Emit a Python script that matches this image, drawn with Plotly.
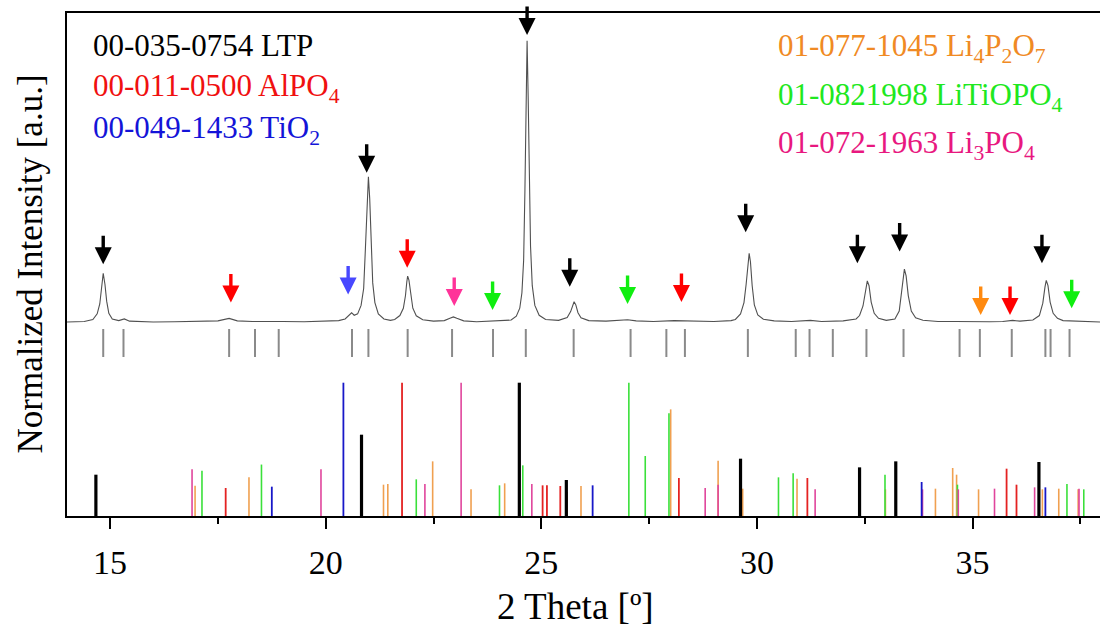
import plotly.graph_objects as go

# ---------------- DATA ----------------
# measured pattern: 2-theta [deg], intensity [% of max, baseline = 0]
curve_theta = [14.00, 14.40, 14.60, 14.70, 14.76, 14.80, 14.84, 14.88, 14.92, 14.97, 15.05, 15.20, 15.33, 15.45,
               16.00, 16.50, 17.00, 17.50, 17.76, 17.95, 18.30, 18.60, 19.00, 19.50, 20.00,
               20.30, 20.45, 20.55, 20.60, 20.66, 20.74, 20.82, 20.88, 20.92, 20.96, 20.99, 21.02, 21.05, 21.09,
               21.14, 21.22, 21.35, 21.50, 21.60, 21.72, 21.80, 21.85, 21.88, 21.90, 21.93, 21.97, 22.02, 22.10,
               22.25, 22.50, 22.75, 22.88, 22.96, 23.04, 23.20, 23.50, 23.70, 23.87, 24.00, 24.20, 24.30, 24.42,
               24.50, 24.55, 24.59, 24.62, 24.645, 24.67, 24.695, 24.72, 24.75, 24.79, 24.85, 24.95, 25.10,
               25.40, 25.60, 25.68, 25.73, 25.76, 25.80, 25.85, 25.92, 26.10, 26.50, 26.84, 27.00, 27.20, 27.60,
               28.08, 28.30, 28.60, 29.00, 29.40, 29.50, 29.62, 29.70, 29.75, 29.79, 29.82, 29.85, 29.89, 29.94,
               30.02, 30.15, 30.40, 30.80, 31.00, 31.24, 31.50, 32.00, 32.30, 32.38, 32.46, 32.51, 32.56, 32.60,
               32.65, 32.72, 32.82, 33.00, 33.20, 33.30, 33.36, 33.42, 33.46, 33.51, 33.58, 33.68, 33.85, 34.20,
               34.60, 35.00, 35.18, 35.40, 35.70, 35.93, 36.10, 36.40, 36.55, 36.63, 36.68, 36.71, 36.75, 36.80,
               36.87, 36.97, 37.10, 37.30, 37.50, 38.00]
curve_int = [0.1, 0.3, 1.0, 3.0, 6.5, 12.5, 17.4, 13.5, 7.5, 3.2, 1.2, 0.6, 1.2, 0.4,
             0.1, 0.2, 0.3, 0.5, 1.4, 0.5, 0.3, 0.2, 0.3, 0.2, 0.4,
             0.6, 1.2, 2.5, 3.4, 2.5, 3.0, 6.0, 12.0, 26.0, 44.0, 51.7, 44.0, 29.0, 14.0,
             7.0, 3.0, 1.2, 0.7, 1.0, 2.4, 5.0, 9.5, 14.3, 16.4, 15.0, 10.0, 5.0, 2.3,
             0.9, 0.4, 0.6, 1.4, 1.9, 1.4, 0.5, 0.2, 0.3, 0.6, 0.4, 0.7, 0.8, 2.2,
             5.0, 10.5, 22.0, 47.0, 77.0, 100.0, 80.0, 53.0, 27.0, 13.0, 6.0, 2.5, 1.0,
             0.7, 1.7, 3.8, 6.2, 7.3, 6.2, 3.4, 1.6, 0.6, 0.4, 0.8, 0.9, 0.5, 0.3,
             0.6, 0.5, 0.3, 0.3, 0.6, 1.0, 3.0, 7.0, 13.5, 21.0, 24.5, 21.5, 13.0, 6.2,
             2.6, 1.1, 0.5, 0.3, 0.5, 0.7, 0.3, 0.5, 1.2, 2.4, 5.8, 10.8, 14.7, 13.0,
             7.2, 3.2, 1.4, 0.7, 1.2, 4.0, 11.0, 18.9, 16.5, 9.5, 4.0, 1.6, 0.7, 0.3,
             0.3, 0.2, 0.4, 0.2, 0.3, 0.7, 0.4, 0.8, 2.4, 6.8, 12.5, 14.9, 13.0, 7.2,
             3.2, 1.4, 0.6, 0.5, 0.2, 0.1]

# LTP reference reflections (gray tick row)
ref_ticks = [14.84, 15.31, 17.76, 18.36, 18.91, 20.61, 20.99, 21.90, 22.93, 23.88, 24.64, 25.75, 27.07,
             27.90, 28.33, 29.79, 30.90, 31.22, 31.76, 32.54, 33.40, 34.70, 35.17, 35.91, 36.69, 36.81, 37.25]

# stick patterns: position [deg], relative intensity [%]
ltp_pos = [14.67, 20.83, 24.49, 25.58, 29.62, 32.38, 33.22, 36.54]
ltp_int = [31, 61, 100, 27, 43, 36.5, 41, 40.5]
alpo4_pos = [17.68, 21.77, 25.03, 25.13, 25.44, 28.19, 31.17, 35.79, 36.02]
alpo4_int = [21, 100, 23, 23, 22.5, 28.5, 28.5, 35.5, 23.5]
tio2_pos = [18.75, 20.41, 26.19, 33.82, 36.69]
tio2_int = [22, 100, 23, 25.5, 21.5]
li4p2o7_pos = [16.97, 18.22, 21.34, 21.44, 22.48, 23.37, 24.15, 25.60, 25.92, 28.00, 29.10, 29.67, 30.93,
               32.98, 34.14, 34.54, 34.63, 35.14, 36.62, 37.00, 37.45]
li4p2o7_int = [22.6, 29, 23.5, 24, 41, 20, 24.5, 18, 22.5, 80, 41.5, 20.5, 28,
               20, 20.5, 36, 31, 20, 20, 20.5, 20]
litiopo4_pos = [17.13, 18.51, 22.10, 24.03, 24.57, 27.03, 27.41, 27.96, 30.50, 30.84, 32.97, 34.65, 37.19, 37.58]
litiopo4_int = [34, 38.6, 27.5, 23, 38, 100, 45, 77, 29, 32, 31, 23.5, 24, 20]
li3po4_pos = [16.90, 19.89, 22.30, 23.14, 24.78, 28.80, 29.10, 31.35, 33.84, 34.67, 35.51, 36.44, 37.47]
li3po4_int = [35, 35, 24, 100, 24, 21, 23.5, 20, 20, 20, 20.5, 21.5, 20.5]

# phase-marker arrows: position [deg], phase, tip level [% of curve scale]
arrow_pos = [14.84, 17.80, 20.52, 20.95, 21.89, 22.98, 23.87, 24.67, 25.66, 27.00, 28.25, 29.74,
             32.33, 33.31, 35.19, 35.87, 36.61, 37.30]
arrow_phase = ["LTP", "AlPO4", "TiO2", "LTP", "AlPO4", "Li3PO4", "LiTiOPO4", "LTP", "LTP", "LiTiOPO4",
               "AlPO4", "LTP", "LTP", "LTP", "Li4P2O7", "AlPO4", "LTP", "LiTiOPO4"]
arrow_level = [20.6, 7.0, 9.9, 53.1, 19.4, 5.8, 4.4, 102.0, 12.6, 6.5, 7.2, 32.0,
               21.0, 25.1, 2.6, 2.6, 21.0, 5.0]

legend_left = ["00-035-0754 LTP", "00-011-0500 AlPO<sub>4</sub>", "00-049-1433 TiO<sub>2</sub>"]
legend_right = ["01-077-1045 Li<sub>4</sub>P<sub>2</sub>O<sub>7</sub>", "01-0821998 LiTiOPO<sub>4</sub>",
                "01-072-1963 Li<sub>3</sub>PO<sub>4</sub>"]

# ---------------- STYLE ----------------
FONT = "'Liberation Serif', 'Times New Roman', Times, serif"
W, H = 1100, 633
L, R, T, B = 67, 0, 13, 117
plot_h = H - T - B
YMAX = 100.0
px_per_unit = plot_h / YMAX

def px_to_y(px):
    return (H - B - px) / px_per_unit

curve_base = px_to_y(322.3)
curve_scale = (px_to_y(40.7) - curve_base) / 100.0
stick_scale = (px_to_y(382.7) - px_to_y(516)) / 100.0
tick_lo, tick_hi = px_to_y(357), px_to_y(329)

stick_colors = {"LTP": "#000000", "AlPO4": "#e42222", "TiO2": "#1818c8",
                "Li4P2O7": "#f0a050", "LiTiOPO4": "#3ae03a", "Li3PO4": "#e0459c"}
arrow_colors = {"LTP": "#000000", "AlPO4": "#ff0000", "TiO2": "#4848ff",
                "Li4P2O7": "#ff8a10", "LiTiOPO4": "#10ee10", "Li3PO4": "#ff3399"}
text_colors_left = ["#000000", "#f01010", "#1414d8"]
text_colors_right = ["#f08a24", "#20e820", "#e8187f"]

fig = go.Figure()

def sticks(pos, inten, color, width):
    xs, ys = [], []
    for p, i in zip(pos, inten):
        xs += [p, p, None]
        ys += [0, i * stick_scale, None]
    fig.add_trace(go.Scatter(x=xs, y=ys, mode="lines", line=dict(color=color, width=width),
                             hoverinfo="skip", showlegend=False))

sticks(li4p2o7_pos, li4p2o7_int, stick_colors["Li4P2O7"], 1.6)
sticks(litiopo4_pos, litiopo4_int, stick_colors["LiTiOPO4"], 1.6)
sticks(li3po4_pos, li3po4_int, stick_colors["Li3PO4"], 1.6)
sticks(tio2_pos, tio2_int, stick_colors["TiO2"], 1.8)
sticks(alpo4_pos, alpo4_int, stick_colors["AlPO4"], 1.8)
sticks(ltp_pos, ltp_int, stick_colors["LTP"], 3.2)

# gray reference ticks
tx, ty = [], []
for p in ref_ticks:
    tx += [p, p, None]
    ty += [tick_lo, tick_hi, None]
fig.add_trace(go.Scatter(x=tx, y=ty, mode="lines", line=dict(color="#8a8a8a", width=2),
                         hoverinfo="skip", showlegend=False))

# measured curve
fig.add_trace(go.Scatter(x=curve_theta, y=[curve_base + v * curve_scale for v in curve_int],
                         mode="lines", line=dict(color="#505050", width=1.1),
                         hoverinfo="skip", showlegend=False))

# arrows
for p, ph, lv in zip(arrow_pos, arrow_phase, arrow_level):
    fig.add_annotation(x=p, y=curve_base + lv * curve_scale, xref="x", yref="y", text="",
                       showarrow=True, ax=0, ay=-30, axref="pixel", ayref="pixel",
                       arrowhead=2, arrowsize=1.0, arrowwidth=3.4, arrowcolor=arrow_colors[ph])

def paper_x(px):
    return (px - L) / (W - L - R)

def paper_y(px):
    return (H - B - px) / plot_h

for i, (t, c) in enumerate(zip(legend_left, text_colors_left)):
    fig.add_annotation(x=paper_x(91), y=paper_y([54.3, 94.3, 136][i] - 28), xref="paper", yref="paper",
                       text=t, showarrow=False, xanchor="left", yanchor="top",
                       font=dict(family=FONT, size=31, color=c))
for i, (t, c) in enumerate(zip(legend_right, text_colors_right)):
    fig.add_annotation(x=paper_x(776), y=paper_y([54.3, 102.7, 150.7][i] - 28), xref="paper", yref="paper",
                       text=t, showarrow=False, xanchor="left", yanchor="top",
                       font=dict(family=FONT, size=31, color=c))

# axis titles
fig.add_annotation(x=paper_x(30), y=0.5, xref="paper", yref="paper", text="Normalized Intensity [a.u.]",
                   textangle=-90, showarrow=False, xanchor="center", yanchor="middle",
                   font=dict(family=FONT, size=35, color="#000000"))
fig.add_annotation(x=paper_x(575), y=paper_y(606), xref="paper", yref="paper", text="2 Theta [º]",
                   showarrow=False, xanchor="center", yanchor="middle",
                   font=dict(family=FONT, size=37, color="#000000"))

x_end = 14 + (W - L - R) / 43.12
fig.update_layout(
    width=W, height=H, margin=dict(l=L, r=R, t=T, b=B),
    paper_bgcolor="white", plot_bgcolor="white",
    xaxis=dict(range=[14, x_end], tickmode="linear", tick0=15, dtick=5, ticks="outside", ticklen=11,
               tickwidth=2, tickcolor="black", showline=True, linecolor="black", linewidth=2, mirror=True,
               showgrid=False, zeroline=False, ticklabelstandoff=4,
               minor=dict(tick0=15, dtick=2.5, ticks="outside", ticklen=6, tickwidth=2, tickcolor="black"),
               tickfont=dict(family=FONT, size=34, color="black")),
    yaxis=dict(range=[0, YMAX], showticklabels=False, ticks="", showline=True, linecolor="black",
               linewidth=2, mirror=False, showgrid=False, zeroline=False),
)

fig.write_html("out.html")
